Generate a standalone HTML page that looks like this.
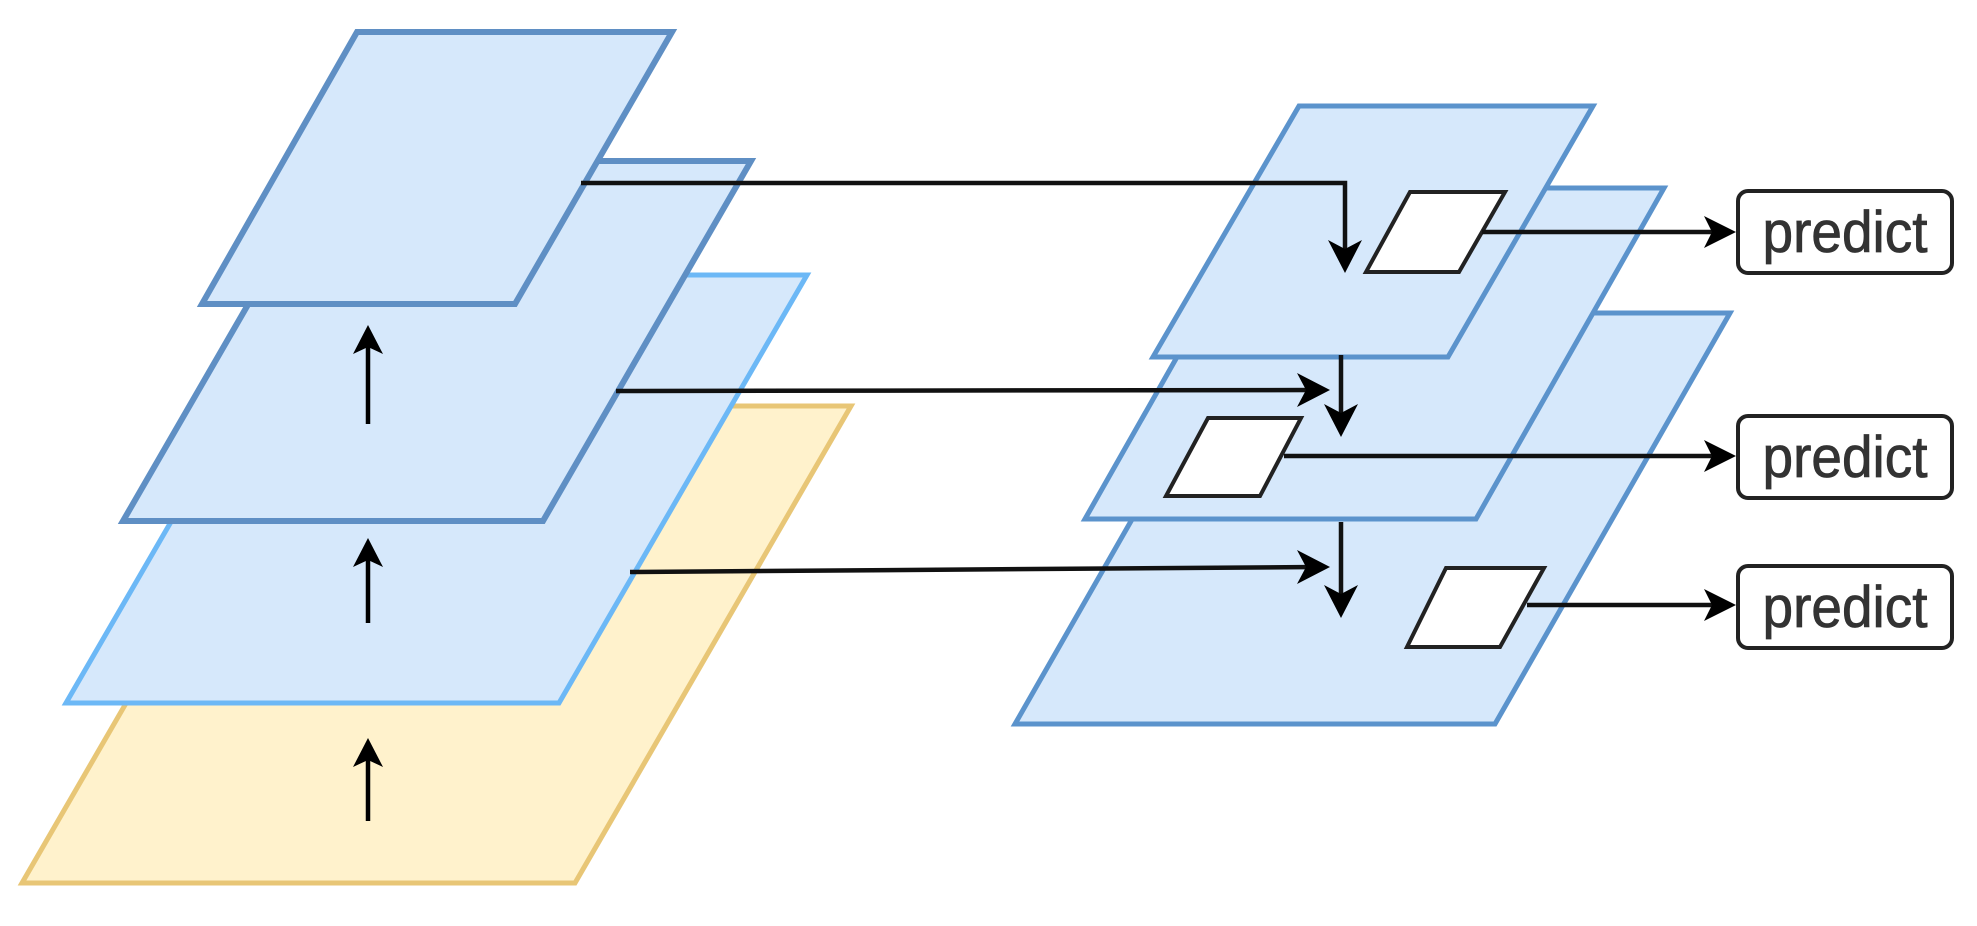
<!DOCTYPE html>
<html><head><meta charset="utf-8"><style>
html,body{margin:0;padding:0;background:#fff;}
svg{display:block;}
text{font-family:"Liberation Sans",sans-serif;}
</style></head><body>
<svg width="1977" height="926" viewBox="0 0 1977 926" xmlns="http://www.w3.org/2000/svg">
<!-- left stack -->
<polygon points="298,406 851,406 575,883 22,883" fill="#fff2cc" stroke="#e8c676" stroke-width="5"/>
<polygon points="314,275 807,275 559,703 66,703" fill="#d6e8fb" stroke="#6cb8f6" stroke-width="5"/>
<polygon points="331,161 751,161 543,521 123,521" fill="#d6e8fb" stroke="#5f8fc4" stroke-width="6"/>
<polygon points="357,32 672,32 515,304 202,304" fill="#d6e8fb" stroke="#5f8fc4" stroke-width="6"/>
<!-- up arrows -->
<g stroke="#000" stroke-width="4.5" fill="#000">
<line x1="368" y1="424" x2="368" y2="345"/>
<line x1="368" y1="623" x2="368" y2="558"/>
<line x1="368" y1="821" x2="368" y2="758"/>
</g>
<g fill="#000">
<polygon points="368,325 353,354 368,347 383,354"/>
<polygon points="368,538 353,567 368,560 383,567"/>
<polygon points="368,738 353,767 368,760 383,767"/>
</g>
<!-- right stack -->
<polygon points="1250,313 1730,313 1495,724 1015,724" fill="#d6e8fb" stroke="#5b93cc" stroke-width="5"/>
<polygon points="1273,188 1664,188 1476,519 1085,519" fill="#d6e8fb" stroke="#5b93cc" stroke-width="5"/>
<polygon points="1299,106 1593,106 1448,357 1153,357" fill="#d6e8fb" stroke="#5b93cc" stroke-width="5"/>
<!-- white small parallelograms -->
<g fill="#fff" stroke="#222" stroke-width="4">
<polygon points="1410,192 1505,192 1459,272 1366,272"/>
<polygon points="1208,418 1301,418 1260,496 1166,496"/>
<polygon points="1446,568 1544,568 1500,647 1407,647"/>
</g>
<!-- connectors -->
<g stroke="#111" stroke-width="4.5" fill="none">
<polyline points="581,183 1345,183 1345,258"/>
<line x1="616" y1="391" x2="1316" y2="390"/>
<line x1="1341" y1="355" x2="1341" y2="422"/>
<line x1="630" y1="572" x2="1316" y2="567"/>
<line x1="1341" y1="522" x2="1341" y2="603"/>
<line x1="1482" y1="232" x2="1720" y2="232"/>
<line x1="1284" y1="456" x2="1720" y2="456"/>
<line x1="1527" y1="605" x2="1720" y2="605"/>
</g>
<g fill="#000">
<polygon points="1345,273 1328,240 1345,249 1362,240"/>
<polygon points="1330,390 1297,373 1306,390 1297,407"/>
<polygon points="1341,437 1324,404 1341,413 1358,404"/>
<polygon points="1330,567 1297,550 1306,567 1297,584"/>
<polygon points="1341,618 1324,585 1341,594 1358,585"/>
<polygon points="1736,232 1704,216 1712,232 1704,248"/>
<polygon points="1736,456 1704,440 1712,456 1704,472"/>
<polygon points="1736,605 1704,589 1712,605 1704,621"/>
</g>
<!-- predict boxes -->
<g fill="#fff" stroke="#222" stroke-width="4">
<rect x="1738" y="191" width="214" height="82" rx="10"/>
<rect x="1738" y="416" width="214" height="82" rx="10"/>
<rect x="1738" y="566" width="214" height="82" rx="10"/>
</g>
<g font-size="58" fill="#333" stroke="#333" stroke-width="0.8" text-anchor="middle">
<text x="1845" y="252" textLength="165" lengthAdjust="spacingAndGlyphs">predict</text>
<text x="1845" y="477" textLength="165" lengthAdjust="spacingAndGlyphs">predict</text>
<text x="1845" y="627" textLength="165" lengthAdjust="spacingAndGlyphs">predict</text>
</g>
</svg>
</body></html>
